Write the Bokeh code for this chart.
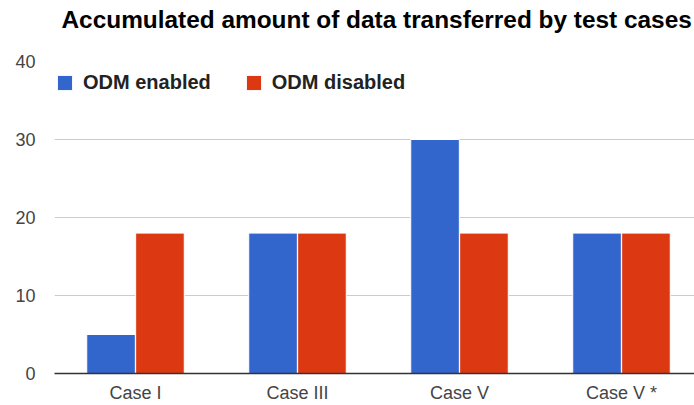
from bokeh.plotting import figure
from bokeh.models import ColumnDataSource, Legend, LegendItem, FixedTicker, Range1d, Title
from bokeh.embed import file_html
from bokeh.resources import INLINE

# ---- data ----
title_text = "Accumulated amount of data transferred by test cases"
categories = ["Case I", "Case III", "Case V", "Case V *"]
odm_enabled = [5, 18, 30, 18]
odm_disabled = [18, 18, 18, 18]
y_ticks = [0, 10, 20, 30, 40]
series_names = ["ODM enabled", "ODM disabled"]
colors = ["#3366CC", "#DC3912"]

idx = list(range(len(categories)))
centers = [i + 0.5 for i in idx]
off = 0.151
bw = 0.30

src_en = ColumnDataSource(dict(x=[c - off for c in centers], top=odm_enabled))
src_dis = ColumnDataSource(dict(x=[c + off for c in centers], top=odm_disabled))

FONT = "Liberation Sans"

p = figure(width=694, height=405, output_backend="svg", toolbar_location=None,
           x_range=Range1d(0, 640 / 162.0), y_range=Range1d(0, 40),
           min_border_left=54, min_border_right=0, min_border_top=61,
           min_border_bottom=32, title=title_text)
p.outline_line_color = None
p.background_fill_color = "white"

p.title.text_font = FONT
p.title.text_font_size = "24.4px"
p.title.text_font_style = "bold"
p.title.text_color = "#000000"
p.title.align = "left"
p.title.vertical_align = "bottom"
p.title.offset = 7
p.title.standoff = 0

# spacer between the title and the plot frame
spacer = Title(text=" ", text_font_size="1px", standoff=26)
p.add_layout(spacer, "above")

r1 = p.vbar(x="x", top="top", width=bw, bottom=0, source=src_en,
            fill_color=colors[0], line_color="white", line_width=1)
r2 = p.vbar(x="x", top="top", width=bw, bottom=0, source=src_dis,
            fill_color=colors[1], line_color="white", line_width=1)

# axes
p.xaxis.ticker = FixedTicker(ticks=centers)
p.xaxis.major_label_overrides = {c: name for c, name in zip(centers, categories)}
p.xaxis.axis_line_color = "#333333"
p.xaxis.axis_line_width = 1.5
p.xaxis.major_tick_line_color = None
p.xaxis.major_tick_out = 0
p.xaxis.major_tick_in = 0
p.xaxis.minor_tick_line_color = None
p.xaxis.major_label_standoff = 9
p.xaxis.major_label_text_font = FONT
p.xaxis.major_label_text_font_size = "18px"
p.xaxis.major_label_text_color = "#444444"

p.yaxis.ticker = FixedTicker(ticks=y_ticks)
p.yaxis.axis_line_color = None
p.yaxis.major_tick_line_color = None
p.yaxis.major_tick_out = 0
p.yaxis.major_tick_in = 0
p.yaxis.minor_tick_line_color = None
p.yaxis.major_label_standoff = 19
p.yaxis.major_label_text_font = FONT
p.yaxis.major_label_text_font_size = "18px"
p.yaxis.major_label_text_color = "#444444"

p.xgrid.grid_line_color = None
p.ygrid.grid_line_color = "#cccccc"
p.ygrid.grid_line_width = 1

legend = Legend(items=[LegendItem(label=series_names[0], renderers=[r1]),
                       LegendItem(label=series_names[1], renderers=[r2])],
                orientation="horizontal", location=(1, 279),
                padding=0, margin=0, spacing=33,
                glyph_width=19, glyph_height=19, label_standoff=9,
                label_text_font=FONT, label_text_font_size="20px",
                label_text_font_style="bold", label_text_color="#222222",
                border_line_color=None, background_fill_alpha=0)
p.add_layout(legend)

open("out.html", "w").write(file_html(p, INLINE))
